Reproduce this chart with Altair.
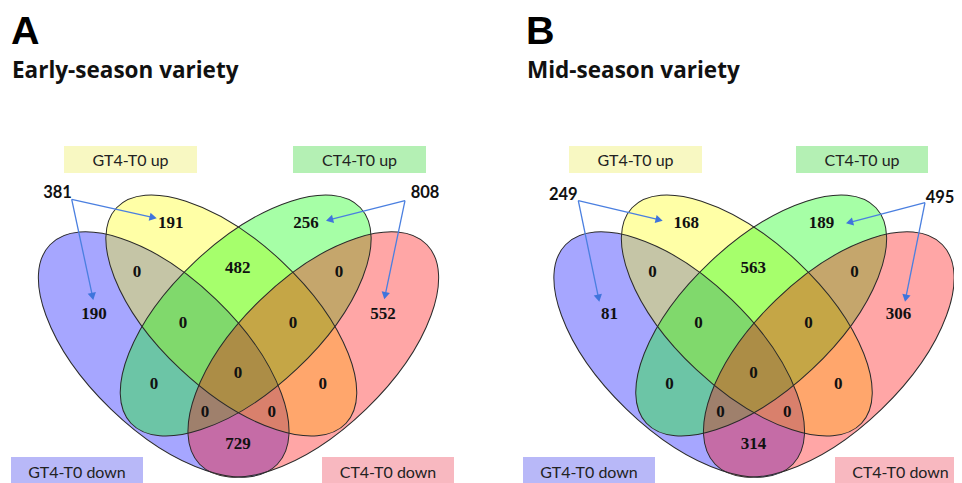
import math
import altair as alt
import pandas as pd

# ---------------- data ----------------
panel_letters = ["A", "B"]
panel_titles = ["Early-season variety", "Mid-season variety"]
set_names = ["GT4-T0 up", "CT4-T0 up", "GT4-T0 down", "CT4-T0 down"]
# Venn regions: Y=GT4 up, G=CT4 up, B=GT4 down, R=CT4 down
region_keys = ["Y", "G", "B", "R", "YG", "YB", "GR", "YGB", "YGR",
               "YGBR", "GB", "YR", "GBR", "YBR", "BR"]
counts_A = [191, 256, 190, 552, 482, 0, 0, 0, 0, 0, 0, 0, 0, 0, 729]
counts_B = [168, 189, 81, 306, 563, 0, 0, 0, 0, 0, 0, 0, 0, 0, 314]
gt4_totals = [381, 249]
ct4_totals = [808, 495]

# ---------------- layout (pixels) ----------------
panel_dx = [0.0, 515.5]
region_pos = {  # panel A label centres
    "Y": (170.7, 222.5), "G": (306.0, 222.7), "B": (94.0, 313.5), "R": (383.0, 314.3),
    "YG": (237.7, 267.5), "YB": (137.0, 271.5), "GR": (339.0, 271.5),
    "YGB": (183.0, 323.0), "YGR": (293.0, 323.0), "YGBR": (238.0, 373.0),
    "GB": (154.0, 384.0), "YR": (322.7, 384.0), "GBR": (205.0, 411.7),
    "YBR": (271.7, 411.7), "BR": (238.0, 444.0),
}
# ellipses for panel A: name, cx, cy, semi-major, semi-minor, angle, colour, draw order
ellipse_geo = [
    ("B", 163.7, 354.5, 158.0, 76.0, 44.0, "#0000ff", 1),
    ("Y", 231.3, 315.5, 157.4, 74.0, 43.2, "#ffff00", 2),
    ("G", 245.7, 315.5, 157.4, 74.0, 136.8, "#00ff00", 3),
    ("R", 313.3, 354.5, 158.0, 76.0, 136.0, "#ff0000", 4),
]
# label boxes [x1, x2, y1, y2, fill, text x, text baseline y] per panel
box_A = [
    (64, 197, 146, 173, "#f8f8c2", 130.5, 166),
    (293, 426, 146, 173, "#b4f0b4", 359.5, 166),
    (11, 143, 457, 490, "#b8b8f8", 77.0, 478),
    (322, 454, 457, 490, "#f8b8c0", 388.0, 478),
]
box_B = [
    (569, 702, 146, 173, "#f8f8c2", 635.5, 166),
    (796, 928, 146, 173, "#b4f0b4", 862.0, 166),
    (523, 655, 457, 490, "#b8b8f8", 589.0, 478),
    (835, 966, 457, 490, "#f8b8c0", 900.5, 478),
]
total_pos = [((57.5, 192.5), (425.0, 192.7)), ((563.3, 195.0), (940.0, 198.3))]
arrows = [  # start, tip
    ((71.7, 199.3), (156.7, 218.3)), ((71.7, 199.3), (93.3, 300.0)),
    ((405.0, 200.7), (326.0, 220.7)), ((405.0, 200.7), (384.3, 299.3)),
    ((578.3, 200.7), (662.7, 220.7)), ((578.3, 200.7), (599.3, 301.7)),
    ((925.0, 202.7), (846.0, 223.3)), ((925.0, 202.7), (905.0, 301.7)),
]
letter_pos = [(11, 44), (526, 44)]
title_pos = [(12, 78), (527, 78)]

# ---------------- build tables ----------------
def ell_path(r):
    return f"M-1,0A1,{r:.4f} 0 1,0 1,0A1,{r:.4f} 0 1,0 -1,0Z"

ell_rows = []
for p, dx in enumerate(panel_dx):
    for name, cx, cy, a, b, ang, col, order in ellipse_geo:
        ell_rows.append(dict(cx=cx + dx, cy=cy, size=(2 * a) ** 2, angle=ang,
                             shape=ell_path(b / a), color=col, ord=order + 10 * p))
ell_df = pd.DataFrame(ell_rows)

reg_rows = []
for p, (dx, counts) in enumerate(zip(panel_dx, [counts_A, counts_B])):
    for k, c in zip(region_keys, counts):
        x, y = region_pos[k]
        reg_rows.append(dict(x=x + dx, y=y, label=str(c)))
reg_df = pd.DataFrame(reg_rows)

box_rows = []
for boxes in (box_A, box_B):
    for name, (x1, x2, y1, y2, fill, tx, ty) in zip(set_names, boxes):
        box_rows.append(dict(x1=x1, x2=x2, y1=y1, y2=y2, fill=fill, tx=tx, ty=ty, label=name))
box_df = pd.DataFrame(box_rows)

tot_rows = []
for p in range(2):
    (gx, gy), (cx_, cy_) = total_pos[p]
    tot_rows.append(dict(x=gx, y=gy, label=str(gt4_totals[p])))
    tot_rows.append(dict(x=cx_, y=cy_, label=str(ct4_totals[p])))
tot_df = pd.DataFrame(tot_rows)

h_tri = math.sqrt(70) / 2 * math.sqrt(3) / 2
arr_rows, head_rows = [], []
for (sx, sy), (tx, ty) in arrows:
    dx, dy = tx - sx, ty - sy
    L = math.hypot(dx, dy)
    ux, uy = dx / L, dy / L
    arr_rows.append(dict(x=sx, y=sy, x2=tx - ux * 2, y2=ty - uy * 2))
    ang = math.degrees(math.atan2(dx, -dy)) % 360
    head_rows.append(dict(x=tx - ux * h_tri, y=ty - uy * h_tri, angle=ang))
arr_df = pd.DataFrame(arr_rows)
head_df = pd.DataFrame(head_rows)

letter_df = pd.DataFrame([dict(x=x, y=y, label=l) for (x, y), l in zip(letter_pos, panel_letters)])
title_df = pd.DataFrame([dict(x=x, y=y, label=t) for (x, y), t in zip(title_pos, panel_titles)])

# ---------------- chart ----------------
xs = alt.Scale(domain=[8, 954], nice=False, zero=False)
ys = alt.Scale(domain=[8, 483], nice=False, zero=False, reverse=True)

def X(f):
    return alt.X(f, scale=xs, axis=None)

def Y(f):
    return alt.Y(f, scale=ys, axis=None)

boxes = alt.Chart(box_df).mark_rect().encode(
    x=X("x1:Q"), x2="x2:Q", y=Y("y1:Q"), y2="y2:Q",
    color=alt.Color("fill:N", scale=None))

box_text = alt.Chart(box_df).mark_text(font="Lato", fontSize=16, color="#222222",
                                       baseline="alphabetic", align="center").encode(
    x=X("tx:Q"), y=Y("ty:Q"), text="label:N")

fills = alt.Chart(ell_df).mark_point(filled=True, opacity=1, fillOpacity=0.35, strokeWidth=0).encode(
    x=X("cx:Q"), y=Y("cy:Q"),
    size=alt.Size("size:Q", scale=None),
    angle=alt.Angle("angle:Q", scale=None),
    shape=alt.Shape("shape:N", scale=None),
    color=alt.Color("color:N", scale=None),
    order=alt.Order("ord:Q"))

outlines = alt.Chart(ell_df).mark_point(filled=False, opacity=1, strokeWidth=1,
                                        color="#2a2a2a", fillOpacity=0).encode(
    x=X("cx:Q"), y=Y("cy:Q"),
    size=alt.Size("size:Q", scale=None),
    angle=alt.Angle("angle:Q", scale=None),
    shape=alt.Shape("shape:N", scale=None))

reg_text = alt.Chart(reg_df).mark_text(font="Liberation Serif", fontWeight="bold", fontSize=17,
                                       color="#111111", baseline="middle").encode(
    x=X("x:Q"), y=Y("y:Q"), text="label:N")

tot_text = alt.Chart(tot_df).mark_text(font="Lato", fontWeight="bold", fontSize=16.5,
                                       color="#111111", baseline="middle").encode(
    x=X("x:Q"), y=Y("y:Q"), text="label:N")

arr_lines = alt.Chart(arr_df).mark_rule(color="#4a7fe0", strokeWidth=1.3).encode(
    x=X("x:Q"), y=Y("y:Q"), x2="x2:Q", y2="y2:Q")

heads = alt.Chart(head_df).mark_point(shape="triangle-up", filled=True, size=70,
                                      color="#3f74dc", opacity=1).encode(
    x=X("x:Q"), y=Y("y:Q"), angle=alt.Angle("angle:Q", scale=None))

letters = alt.Chart(letter_df).mark_text(font="Liberation Sans", fontWeight="bold", fontSize=39.5,
                                         align="left", baseline="alphabetic", color="#000000").encode(
    x=X("x:Q"), y=Y("y:Q"), text="label:N")

titles = alt.Chart(title_df).mark_text(font="Open Sans", fontWeight="bold", fontSize=22.5,
                                       align="left", baseline="alphabetic", color="#111111").encode(
    x=X("x:Q"), y=Y("y:Q"), text="label:N")

chart = alt.layer(boxes, box_text, fills, outlines, arr_lines, heads, reg_text, tot_text,
                  letters, titles).properties(
    width=946, height=475, padding=0,
    autosize=alt.AutoSizeParams(type="none")
).configure_view(stroke=None)

chart.save("out.html", embed_options={"renderer": "svg", "actions": False})
